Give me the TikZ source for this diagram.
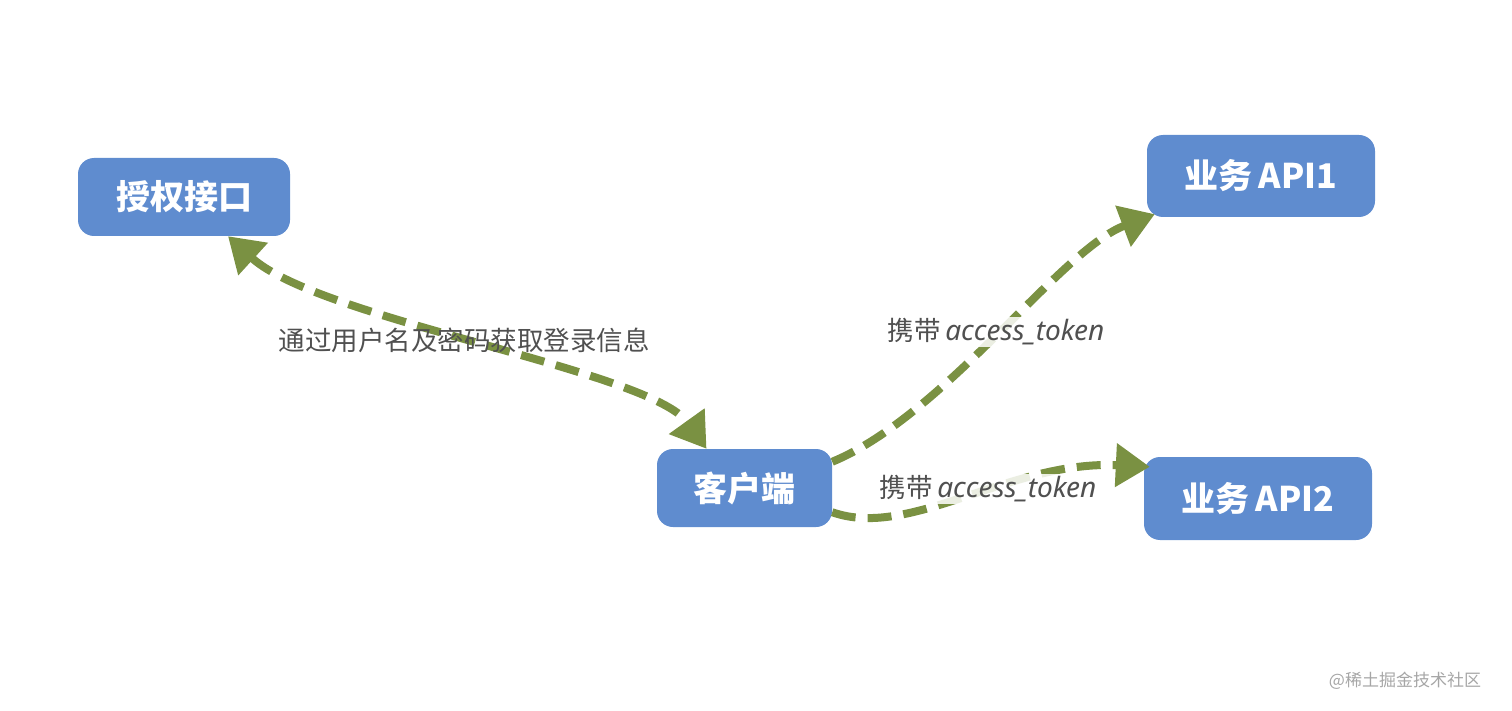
\documentclass[tikz,border=0pt]{standalone}
\usepackage{fontspec}
\usepackage{xcolor}
\usepackage{tikz}
\usetikzlibrary{arrows.meta, positioning, calc}

\newfontfamily\cjk{Noto Sans CJK SC}
\newfontfamily\latinit{Noto Sans}
\definecolor{boxblue}{RGB}{95,140,207}
\definecolor{linkgreen}{RGB}{122,145,66}
\definecolor{labelgray}{RGB}{80,80,80}

\begin{document}
\begin{tikzpicture}[x=1pt, y=-1pt,
  box/.style={fill=boxblue, rounded corners=16pt, text=white, inner sep=0pt,
    minimum height=78pt, font=\cjk\bfseries\fontsize{34}{40}\selectfont},
  link/.style={draw=linkgreen, line width=8pt, dash pattern=on 24pt off 12pt},
  tip/.style={-{Triangle[length=34pt, width=42pt]}},
  tag/.style={text=labelgray, inner sep=2pt, font=\cjk\fontsize{26.5}{30}\selectfont},
  fade/.style={fill=white, fill opacity=0.85, text opacity=1}]
  \useasboundingbox (0,0) rectangle (1512,711);

  % boxes
  \node[box, minimum width=212pt] (auth) at (184,197) {授权接口};
  \node[box, minimum width=175pt] (client) at (744.5,488) {客户端};
  \node[box, minimum width=228pt, minimum height=82pt] (api1) at (1261,176) {业务\,API1};
  \node[box, minimum width=228pt, minimum height=83pt] (api2) at (1258,498.5) {业务\,API2};

  % login
  \draw[link, {Triangle[length=34pt, width=42pt]}-{Triangle[length=34pt, width=42pt]}]
    ([xshift=44pt]auth.south) .. controls (320,320) and (650,370) .. ([xshift=-38pt]client.north);
  \node[tag] (login) at (464,340) {通过用户名及密码获取登录信息};

  % calls with token
  \draw[link, tip] ([yshift=-13pt]client.north east) .. controls (945,415) and (1060,250) .. ([xshift=8pt, yshift=3pt]api1.south west);
  \draw[link, tip] ([yshift=15pt]client.south east) .. controls (910,540) and (1010,460) .. ([xshift=6pt, yshift=-10pt]api2.north west);
  \node[tag, fade] (token1) at (996,332) {携带{\latinit\itshape\fontsize{28}{30}\selectfont\,access\_token}};
  \node[tag, fade] (token2) at (988,489) {携带{\latinit\itshape\fontsize{28}{30}\selectfont\,access\_token}};

  \node[text=black!35, font=\cjk\fontsize{17}{20}\selectfont] (mark) at (1405,681) {@稀土掘金技术社区};
\end{tikzpicture}
\end{document}
